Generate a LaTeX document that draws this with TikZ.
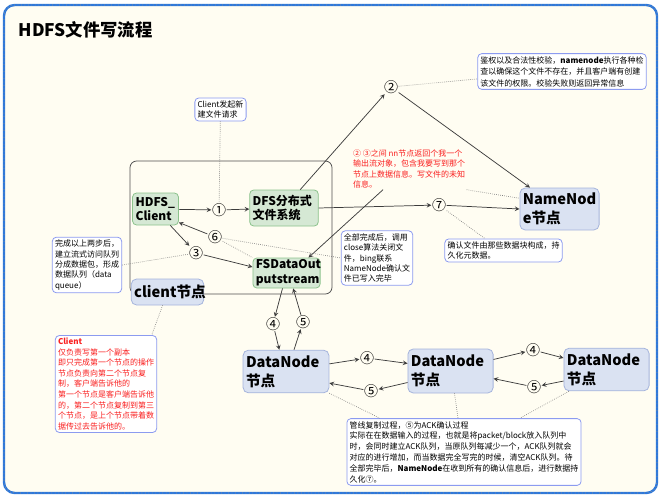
\documentclass[tikz,border=0pt]{standalone}
\usepackage{fontspec}
\setmainfont{Noto Sans CJK SC}

\definecolor{bgcream}{RGB}{255,253,242}
\definecolor{framblue}{RGB}{45,120,220}
\definecolor{greenfill}{RGB}{213,232,212}
\definecolor{greenline}{RGB}{140,195,140}
\definecolor{lavfill}{RGB}{218,226,242}
\definecolor{lavline}{RGB}{165,180,220}
\definecolor{noteline}{RGB}{140,155,240}
\definecolor{redtext}{RGB}{250,30,30}
\definecolor{linegray}{RGB}{60,60,60}

\begin{document}
\begin{tikzpicture}[x=0.75pt,y=-0.75pt,
  greenbox/.style={fill=greenfill,draw=greenline,line width=0.6pt,rounded corners=3pt,align=left,font=\bfseries\fontsize{9}{11}\selectfont,inner xsep=2.2pt,inner ysep=1pt},
  lavbox/.style={fill=lavfill,draw=lavline,line width=0.6pt,rounded corners=4pt,align=left,font=\bfseries\fontsize{11}{14}\selectfont,inner xsep=2.2pt,inner ysep=1pt},
  notebox/.style={fill=white,draw=noteline,line width=0.6pt,rounded corners=3pt,align=left,font=\fontsize{6}{7.8}\selectfont,inner sep=2pt},
  num/.style={font=\fontsize{10.5}{10.5}\selectfont,inner sep=0.3pt},
  arr/.style={draw=linegray,line width=0.55pt,-stealth},
  dots/.style={draw=gray,line width=0.5pt,densely dotted}]
\useasboundingbox (0,0) rectangle (667,499);
\fill[white] (0,0) rectangle (667,499);
\draw[framblue,line width=1.8pt,fill=bgcream,rounded corners=8pt] (4,5) rectangle (657,493);
\draw[black!45,line width=0.6pt,dotted,rounded corners=8pt] (4,5) rectangle (657,493);
% client side group
\draw[linegray!90,line width=0.6pt,rounded corners=5pt] (130,161) rectangle (332,294);

\node[anchor=west,font=\bfseries\fontsize{13}{15}\selectfont] (title) at (14,30) {HDFS文件写流程};

% main nodes
\node[greenbox,text width=30pt,minimum height=24pt] (client) at (155.5,209) {HDFS\_\\Client};
\node[greenbox,text width=47pt,minimum height=27pt] (dfs) at (284,208) {DFS分布式\\文件系统};
\node[greenbox,text width=46pt,minimum height=22.5pt] (fsd) at (286.5,273) {FSDataOut\\putstream};
\node[lavbox,text width=50pt,minimum height=19.5pt] (cnode) at (167.5,292) {client节点};
\node[lavbox,text width=55pt,minimum height=31.5pt] (nn) at (559.5,209) {NameNod\\e节点};
\node[lavbox,text width=60pt,minimum height=32pt] (dn1) at (286,371.5) {DataNode\\节点};
\node[lavbox,text width=59.5pt,minimum height=33pt] (dn2) at (450.5,371) {DataNode\\节点};
\node[lavbox,text width=59.5pt,minimum height=32pt] (dn3) at (606.5,369.5) {DataNode\\节点};

% step numbers
\node[num] (n1) at (219,210) {①};
\node[num] (n2) at (391,87) {②};
\node[num] (n3) at (196,253) {③};
\node[num] (n6) at (215,237) {⑥};
\node[num] (n7) at (439,205) {⑦};
\node[num] (n4a) at (273,324) {④};
\node[num] (n5a) at (303,322) {⑤};
\node[num] (n4b) at (367,358) {④};
\node[num] (n5b) at (371,391) {⑤};
\node[num] (n4c) at (533,350) {④};
\node[num] (n5c) at (534,387) {⑤};

% notes
\node[notebox] (reqnote) at (220.5,109.5) {Client发起新\\建文件请求};
\node[notebox,font=\fontsize{6}{8.6}\selectfont] (authnote) at (562,71.5) {鉴权以及合法性校验，\textbf{namenode}执行各种检\\查以确保这个文件不存在，并且客户端有创建\\该文件的权限。校验失败则返回异常信息};
\node[align=left,text=redtext,font=\fontsize{6}{7.7}\selectfont,inner sep=1pt] (rednote) at (409,169) {② ③之间 nn节点返回个我一个\\输出流对象，包含我要写到那个\\节点上数据信息。写文件的未知\\信息。};
\node[notebox] (leftnote) at (87,265) {完成以上两步后，\\建立流式访问队列\\分成数据包，形成\\数据队列（data\\queue）};
\node[notebox] (closenote) at (377,258) {全部完成后，调用\\close算法关闭文\\件，bing联系\\NameNode确认文\\件已写入完毕};
\node[notebox] (metanote) at (503.5,250.5) {确认文件由那些数据块构成，持\\久化元数据。};
\node[notebox,text=redtext,font=\fontsize{6}{7.9}\selectfont] (clientnote) at (106,384) {\textbf{Client}\\仅负责写第一个副本\\即只完成第一个节点的操作\\节点负责向第二个节点复\\制，客户端告诉他的\\第一个节点是客户端告诉他\\的，第二个节点复制到第三\\个节点，是上个节点带着数\\据传过去告诉他的。};
\node[notebox,font=\fontsize{6}{8.1}\selectfont] (acknote) at (464,452) {管线复制过程，⑤为ACK确认过程\\实际在在数据输入的过程，也就是将packet/block放入队列中\\时，会同时建立ACK队列，当原队列每减少一个，ACK队列就会\\对应的进行增加，而当数据完全写完的时候，清空ACK队列。待\\全部完毕后，\textbf{NameNode}在收到所有的确认信息后，进行数据持\\久化⑦。};

% arrows
\draw[arr] (client) -- (n1);
\draw[arr] (n1) -- (dfs);
\draw[arr] (dfs) -- (n2);
\draw[arr] (n2) -- (nn);
\draw[arr] (dfs.east) -- (n7);
\draw[arr] (n7) -- (nn.west);
\draw[arr] (client.-48) -- (n3);
\draw[arr] (n3) -- (fsd.170);
\draw[arr] (n6) -- (client.-30);
\draw[arr] ([xshift=-19.5pt]rednote.south) -- ([xshift=-9pt]fsd.north east);
\draw[arr] ([xshift=-3pt]fsd.south) -- (n4a);
\draw[arr] (n4a) -- ([xshift=-5pt]dn1.north);
\draw[arr] ([xshift=6pt]dn1.north) -- (n5a);
\draw[arr] (n5a) -- ([xshift=5pt]fsd.south);
\draw[arr] (dn1.10) -- (n4b);
\draw[arr] (n4b) -- (dn2.170);
\draw[arr] (dn2.195) -- (n5b);
\draw[arr] (n5b) -- (dn1.-15);
\draw[arr] (dn2.15) -- (n4c);
\draw[arr] (n4c) -- (dn3.165);
\draw[arr] (dn3.195) -- (n5c);
\draw[arr] (n5c) -- (dn2.-10);

% dotted links to notes
\draw[dots] (reqnote) -- (n1);
\draw[dots] (n2) -- (authnote.185);
\draw[dots] (rednote.south east) -- (nn.165);
\draw[dots] (n7) -- ([xshift=-14pt]metanote.north);
\draw[dots] (n6) -- (fsd.north west);
\draw[dots] (n6) -- (closenote.west);
\draw[dots] (leftnote.east) -- (n3);
\draw[dots] (cnode) -- ([xshift=-4pt]clientnote.north east);
\draw[dots] (dn1.south east) -- ([xshift=25pt]acknote.north west);
\draw[dots] ([xshift=3pt]dn2.south) -- ([xshift=-4.5pt]acknote.north);
\draw[dots] ([xshift=4pt]dn3.south west) -- ([xshift=42pt]acknote.north);
\end{tikzpicture}
\end{document}
